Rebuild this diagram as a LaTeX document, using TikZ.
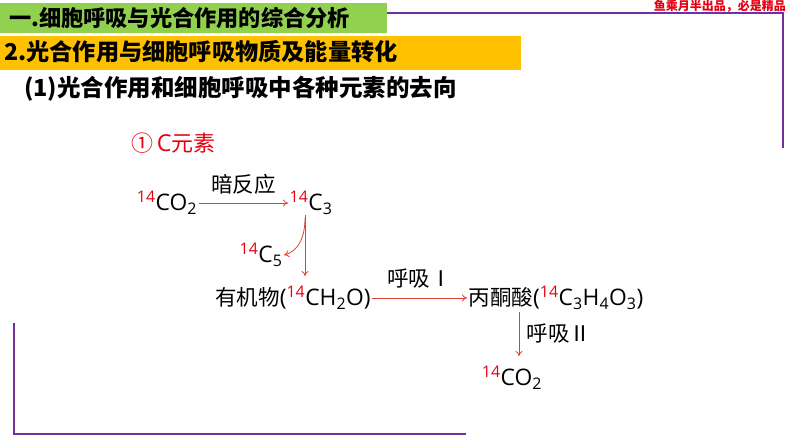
\documentclass[tikz,border=0pt]{standalone}
\usepackage{fontspec}
\setmainfont{Noto Sans CJK SC}
\newfontfamily\lat{Open Sans}[Scale=1.06]
\usepackage{xcolor}
\usetikzlibrary{arrows.meta}
\usetikzlibrary{calc}
\definecolor{hgreen}{HTML}{92D050}
\definecolor{horange}{HTML}{FFC000}
\definecolor{hpurple}{HTML}{7030A0}
\definecolor{arrred}{HTML}{E0402F}
\definecolor{isored}{HTML}{E60012}
\newcommand{\iso}{\textsuperscript{\textcolor{isored}{14}}}
\tikzstyle{arr} = [draw=arrred, line width=0.8pt, -{To[length=5pt,width=7pt]}]
\tikzstyle{chem} = [inner sep=1.5pt, font=\fontsize{21.5}{21.5}\selectfont]
\tikzstyle{head} = [inner sep=0pt, anchor=west, font=\bfseries]

\begin{document}
\begin{tikzpicture}[x=1pt,y=-1pt]
				\useasboundingbox (0,0) rectangle (794,447);
				%%%%%%%%%%%%%%%%%%%%%%%%%%%%%%%%%%
				\fill[hgreen] (0,3) rectangle (387,33);
				\fill[horange] (0,36) rectangle (521,70);
				\draw[hpurple, line width=2.5pt] (387,13) -- (783,13) -- (783,148);
				\draw[hpurple, line width=2.5pt] (14,323) -- (14,434) -- (466,434);
				\node[head] (h1) at (9,18) {\fontsize{22.2}{22.2}\selectfont 一.细胞呼吸与光合作用的综合分析};
				\node[head] (h2) at (4,52) {\fontsize{23.2}{23.2}\selectfont 2.光合作用与细胞呼吸物质及能量转化};
				\node[head] (h3) at (24,89) {\fontsize{23.5}{23.5}\selectfont (1)光合作用和细胞呼吸中各种元素的去向};
				\node[anchor=east, inner sep=0pt, text=isored, font=\fontsize{12}{12}\selectfont\bfseries] (sign) at (786,6) {鱼乘月半出品，必是精品};
				\node[anchor=west, inner sep=0pt, text=isored, font=\fontsize{22}{22}\selectfont] (elem) at (131,143) {①\,{\lat C}元素};
				%%%%%%%%%%%%%%%%%%%%%%%%%%%%%%%%%%
				\node[chem] (co2) at (167,203) {\lat\iso CO\textsubscript{2}};
				\node[chem] (c3) at (311,203) {\lat\iso C\textsubscript{3}};
				\node[chem] (c5) at (261,255) {\lat\iso C\textsubscript{5}};
				\node[chem] (ch2o) at (293,298) {有机物{\lat(\iso CH\textsubscript{2}O)}};
				\node[chem] (pyr) at (556,298) {丙酮酸{\lat(\iso C\textsubscript{3}H\textsubscript{4}O\textsubscript{3})}};
				\node[chem] (co2b) at (512,378) {\lat\iso CO\textsubscript{2}};
				\coordinate (v1) at (305,215);
				\coordinate (v2) at (305,276);
				\coordinate (v3) at (519,312);
				\coordinate (v4) at (519,356);
				%%%%%%%%%%%%%%%%%%%%%%%%%%%%%%%%%%
				\draw[arr] (co2.east) -- (co2.east -| c3.west);
				\node[chem] at ($(co2.east)!0.5!(co2.east -| c3.west)+(0,-19)$) {暗反应};
				\draw[arr] (v1) -- (v2);
				\draw[arr] ($(v1)+(0,3)$) to[out=-90,in=15] (c5.east);
				\draw[arr] (ch2o.east) -- (ch2o.east -| pyr.west);
				\node[chem] at ($(ch2o.east)!0.5!(ch2o.east -| pyr.west)+(0,-19)$) {呼吸Ⅰ};
				\draw[arr] (v3) -- (v4);
				\node[chem, anchor=west] at ($(v3)!0.5!(v4)+(6,0)$) {呼吸Ⅱ};
\end{tikzpicture}
\end{document}
